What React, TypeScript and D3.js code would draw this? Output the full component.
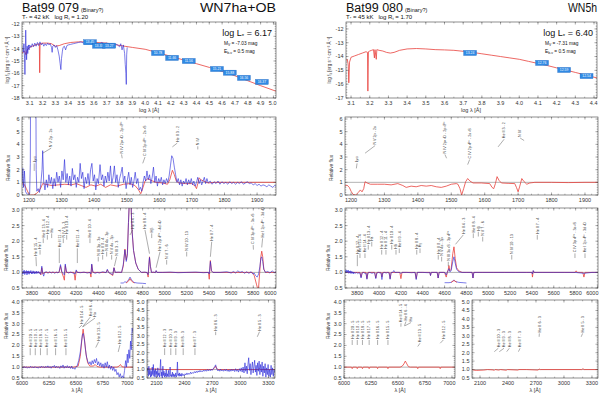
import React from "react";
import * as d3 from "d3";

type P = [number, number];
type Lbl = [number, number, number, number, string]; // line λ, label λ, tick y, text y, text
type Box = [number, number, string];

const FONT = "'Liberation Sans', Arial, Helvetica, sans-serif";
const RED = "#e8413c";
const BLUE = "#2424d8";
const INK = "#333";

// ---------------- Bat99 079 ----------------
const sedModel079: P[] = [[3.04,-14.35],[3.06,-14.2],[3.072,-14.5],[3.08,-14.1],[3.1,-13.9],[3.13,-13.75],[3.16,-13.65],[3.175,-13.6],[3.178,-15.95],[3.181,-13.6],[3.2,-13.55],[3.24,-13.55],[3.27,-13.6],[3.3,-13.8],[3.33,-13.75],[3.37,-13.6],[3.42,-13.5],[3.48,-13.45],[3.55,-13.45],[3.62,-13.5],[3.7,-13.55],[3.78,-13.7],[3.85,-13.82],[3.9,-13.9],[4.0,-14.05],[4.1,-14.33],[4.2,-14.62],[4.3,-14.92],[4.4,-15.22],[4.5,-15.52],[4.6,-15.85],[4.7,-16.2],[4.8,-16.6],[4.9,-17.0],[5.02,-17.45]];
const sedObs079: P[] = [[3.045,-13.9],[3.05,-14.3],[3.055,-13.6],[3.06,-14.8],[3.063,-16.1],[3.066,-14.2],[3.069,-12.5],[3.072,-13.9],[3.076,-14.9],[3.08,-13.8],[3.085,-14.4],[3.09,-13.7],[3.095,-14.1],[3.1,-13.7],[3.11,-13.9],[3.12,-13.6],[3.13,-13.85],[3.14,-13.55],[3.15,-13.8],[3.16,-13.5],[3.17,-13.75],[3.18,-13.45],[3.19,-13.7],[3.2,-13.55],[3.21,-13.8],[3.22,-13.6],[3.23,-13.75],[3.24,-13.55],[3.25,-13.7],[3.26,-13.6],[3.27,-13.9],[3.275,-14.3],[3.28,-13.8],[3.29,-13.7],[3.3,-13.9],[3.31,-13.75],[3.32,-14.1],[3.33,-14.6],[3.337,-15.2],[3.343,-15.7],[3.348,-14.8],[3.355,-14.2],[3.36,-13.9],[3.37,-13.8],[3.38,-14.1],[3.39,-13.75],[3.4,-13.7],[3.42,-13.65],[3.44,-13.6],[3.46,-13.55],[3.48,-13.5],[3.5,-13.45],[3.52,-13.55],[3.54,-13.5],[3.56,-13.6],[3.58,-13.5],[3.6,-13.6],[3.62,-13.55],[3.64,-13.65],[3.66,-13.5],[3.68,-13.6],[3.7,-13.55],[3.72,-13.65],[3.74,-13.6],[3.76,-13.7],[3.78,-13.65],[3.8,-13.85],[3.81,-13.6],[3.82,-14.1],[3.83,-13.7],[3.84,-14.4],[3.845,-15.3],[3.85,-16.0],[3.853,-16.9],[3.856,-14.5],[3.86,-13.9]];
const photo079: Box[] = [[3.57,-13.48,"13.45"],[3.64,-13.76,"13.33"],[3.72,-13.76,"13.27"],[4.1,-14.35,"10.78"],[4.21,-14.75,"11.66"],[4.34,-15.0,"11.56"],[4.56,-15.65,"15.21"],[4.66,-15.95,"15.88"],[4.77,-16.37,"16.56"],[4.91,-16.7,"16.37"]];

const uvModel079: P[] = [[1179,0.9],[1185,0.85],[1192,0.5],[1198,0.15],[1204,0.0],[1214,0.0],[1222,0.1],[1230,0.3],[1236,0.55],[1242,0.9],[1250,0.85],[1270,0.75],[1290,0.8],[1310,0.85],[1330,0.8],[1345,0.9],[1360,0.75],[1375,0.6],[1390,0.8],[1405,0.7],[1420,0.85],[1435,0.6],[1450,0.8],[1470,0.7],[1490,0.85],[1510,0.9],[1525,0.75],[1535,0.45],[1543,0.1],[1550,0.6],[1556,1.1],[1565,1.3],[1575,1.15],[1590,1.0],[1610,0.95],[1625,0.85],[1632,1.2],[1640,1.95],[1646,1.6],[1652,1.1],[1660,0.95],[1680,0.9],[1700,0.9],[1710,0.7],[1714,0.5],[1718,0.9],[1722,1.35],[1728,1.2],[1740,1.05],[1750,0.95],[1770,1.0],[1800,1.0],[1850,1.0],[1900,1.0],[1958,1.0]];
const uvObs079: P[] = [[1179,1.0],[1181,2.1],[1183,0.6],[1186,1.9],[1189,0.3],[1193,0.1],[1197,0.05],[1202,0.1],[1204,2.5],[1205,9],[1221,9],[1222,2],[1224,0.3],[1228,0.5],[1232,0.2],[1236,0.8],[1240,2.0],[1242,3.5],[1245,1.1],[1249,0.4],[1253,1.2],[1257,0.6],[1261,1.6],[1265,0.9],[1269,1.4],[1273,0.5],[1277,1.3],[1281,0.7],[1285,1.8],[1289,1.0],[1293,1.5],[1297,0.6],[1301,1.9],[1305,1.2],[1309,2.8],[1313,1.0],[1317,1.7],[1321,0.8],[1325,1.5],[1329,0.7],[1333,2.1],[1337,1.2],[1341,1.6],[1345,0.6],[1349,1.4],[1353,1.0],[1357,2.5],[1361,1.3],[1365,1.8],[1369,0.5],[1373,1.4],[1377,0.9],[1381,1.7],[1385,0.8],[1389,2.0],[1393,2.5],[1397,1.1],[1401,1.6],[1405,0.4],[1409,1.3],[1413,0.9],[1418,2.4],[1422,1.2],[1426,1.6],[1430,0.7],[1434,1.5],[1438,1.0],[1442,1.8],[1446,1.1],[1450,2.3],[1454,0.9],[1458,1.4],[1462,2.3],[1466,1.0],[1470,1.6],[1474,0.6],[1478,1.3],[1482,1.7],[1486,2.2],[1490,1.0],[1494,1.5],[1498,0.5],[1502,1.2],[1506,1.8],[1510,0.8],[1514,1.4],[1518,0.6],[1522,1.1],[1526,1.8],[1530,0.9],[1534,1.3],[1538,0.4],[1542,0.6],[1546,0.3],[1550,1.0],[1554,1.5],[1558,1.1],[1562,1.9],[1566,1.2],[1570,1.6],[1574,0.9],[1578,1.4],[1582,2.2],[1586,1.0],[1590,1.5],[1594,0.7],[1598,1.3],[1602,1.0],[1606,1.4],[1610,0.8],[1614,1.2],[1618,0.9],[1622,1.3],[1626,1.0],[1630,1.5],[1634,2.3],[1638,3.1],[1642,2.9],[1646,2.2],[1650,1.6],[1654,1.0],[1658,1.3],[1662,0.8],[1666,1.2],[1670,0.7],[1674,1.1],[1678,0.9],[1682,1.3],[1686,0.8],[1690,1.2],[1694,0.9],[1698,1.3],[1702,0.8],[1706,1.1],[1710,0.7],[1714,1.0],[1718,1.4],[1722,0.9],[1726,1.2],[1730,0.8],[1734,1.1],[1738,1.4],[1742,0.9],[1746,1.3],[1750,0.95],[1756,1.1],[1762,0.85],[1768,1.05],[1774,0.9],[1780,1.1],[1786,0.85],[1792,1.05],[1798,0.9],[1804,1.0],[1810,0.85],[1816,1.05],[1822,0.9],[1828,1.0],[1834,0.85],[1840,1.0],[1846,0.9],[1852,1.05],[1858,0.85],[1864,0.95],[1870,1.05],[1876,0.9],[1882,0.95],[1888,0.8],[1894,0.9],[1900,0.75],[1906,0.85],[1912,0.7],[1918,0.8],[1924,0.75],[1930,0.65],[1936,0.8],[1942,0.7],[1948,0.6],[1954,0.75],[1958,0.7]];
const uvLines079: Lbl[] = [[1216,1216,1.9,2.5,"Lyα"],[1242,1268,3.3,3.7,"N V 2p - 2s"],[1486,1484,2.9,3.2,"N IV 2p² ¹D - 2p ¹P°"],[1549,1556,2.5,3.0,"C IV 2p ²P° - 2s ²S"],[1640,1655,3.8,4.1,"He II 3 - 2"],[1718,1718,3.6,3.85,"N IV"]];

const optModel079: P[] = [[3710,1.0],[3870,1.0],[3880,0.92],[3889,1.15],[3898,0.95],[3915,1.0],[4045,1.0],[4058,1.2],[4070,1.0],[4085,0.85],[4093,0.75],[4101,1.22],[4112,1.0],[4180,1.0],[4190,0.75],[4200,1.05],[4210,1.0],[4325,1.0],[4333,0.85],[4340,1.25],[4350,1.0],[4470,1.0],[4481,1.08],[4492,1.0],[4530,0.9],[4541,1.15],[4552,1.0],[4610,1.0],[4625,1.2],[4640,1.75],[4652,1.4],[4662,1.6],[4672,2.6],[4680,3.3],[4694,3.3],[4703,2.4],[4718,1.7],[4738,1.3],[4760,1.1],[4790,1.0],[4840,1.0],[4850,0.85],[4856,1.2],[4862,1.5],[4870,1.2],[4880,1.0],[4915,1.0],[4922,1.05],[4930,1.0],[5395,1.0],[5402,0.78],[5412,1.38],[5422,1.05],[5435,1.0],[5790,1.0],[5808,0.9],[5830,0.6],[5845,0.4],[5858,1.0],[5868,1.5],[5876,1.68],[5885,1.5],[5895,1.1],[5910,1.0],[6005,1.0]];
const optObs079: P[] = [[3710,1.0],[3715,0.94],[3720,1.05],[3725,0.96],[3730,1.07],[3735,0.93],[3740,1.03],[3745,0.97],[3750,1.06],[3755,0.92],[3760,1.04],[3765,0.96],[3770,1.05],[3775,0.94],[3780,1.03],[3785,0.98],[3790,1.06],[3795,0.95],[3800,1.02],[3805,0.96],[3810,1.05],[3815,0.97],[3820,1.03],[3825,0.95],[3830,1.02],[3835,0.97],[3840,1.04],[3845,0.96],[3850,1.02],[3855,0.98],[3860,1.03],[3866,0.96],[3872,1.0],[3880,0.94],[3889,1.2],[3898,0.97],[3906,0.88],[3915,1.0],[3930,1.02],[3945,0.97],[3960,1.02],[3975,0.98],[3990,1.02],[4005,0.97],[4020,1.01],[4035,0.98],[4045,1.02],[4058,1.25],[4070,1.02],[4085,0.95],[4093,0.92],[4101,1.27],[4112,1.02],[4130,0.98],[4150,1.01],[4170,0.98],[4190,0.95],[4200,1.08],[4210,1.0],[4240,0.99],[4270,1.01],[4300,0.98],[4325,1.0],[4333,0.95],[4340,1.27],[4350,1.02],[4370,0.97],[4390,1.0],[4410,0.98],[4440,1.02],[4470,0.99],[4481,1.1],[4492,1.0],[4510,0.97],[4530,0.93],[4541,1.15],[4552,1.0],[4580,1.01],[4610,1.0],[4625,1.25],[4640,1.72],[4652,1.35],[4662,1.55],[4672,2.6],[4680,3.3],[4694,3.3],[4703,2.4],[4718,1.7],[4738,1.3],[4760,1.1],[4790,1.0],[4820,1.01],[4840,0.99],[4850,0.93],[4856,1.25],[4862,1.48],[4870,1.2],[4880,1.0],[4900,1.01],[4915,0.99],[4922,1.06],[4930,1.0],[4980,1.0],[5050,1.01],[5120,0.99],[5200,1.0],[5280,1.01],[5350,0.99],[5395,1.0],[5402,0.95],[5412,1.35],[5422,1.05],[5435,1.0],[5500,1.0],[5560,1.02],[5600,0.98],[5620,1.03],[5640,0.98],[5660,1.05],[5680,1.0],[5700,1.03],[5720,0.97],[5740,1.02],[5760,0.97],[5780,1.02],[5795,0.95],[5808,0.98],[5820,0.9],[5835,0.85],[5848,0.95],[5860,1.2],[5868,1.45],[5876,1.5],[5885,1.35],[5895,1.1],[5910,1.0],[5930,1.03],[5950,0.98],[5970,1.05],[5990,0.99],[6005,1.02]];
const optInsetObs079: P[] = [[4600,0.66],[4625,0.66],[4640,0.7],[4655,0.68],[4672,0.76],[4686,0.85],[4700,0.76],[4720,0.68],[4750,0.66],[4800,0.65],[4830,0.64]];
const optInsetModel079: P[] = [[4650,0.66],[4672,0.72],[4686,0.8],[4700,0.72],[4725,0.66]];
const optLines079: Lbl[] = [[3840,3836,1.2,1.5,"He II 15 - 4"],[3873,3873,1.57,1.72,"He I"],[3902,3902,1.94,2.09,"He II 13 - 4"],[3939,3939,2.05,2.2,"He II 12 - 4"],[3978,3978,2.1,2.25,"Hε"],[4047,4047,1.3,1.77,"He II 11 - 4"],[4083,4083,1.94,2.09,"N IV 3 - 3"],[4114,4114,2.05,2.2,"He II 10 - 4"],[4210,4210,1.3,1.77,"He II 11 - 4"],[4324,4324,1.94,2.09,"He II 10 - 4"],[4399,4399,1.35,1.5,"N III 3p - 3s"],[4439,4439,1.41,1.56,"He II 9 - 4"],[4475,4475,1.51,1.66,"N III 4s - 3p"],[4520,4520,1.41,1.56,"N V 4s - 3p"],[4545,4565,1.2,1.5,"N III 3 - 3"],[4686,4710,2.2,2.36,"He II 4 - 3"],[4862,4821,1.6,2.36,"He II 8 - 4"],[4882,4882,2.1,2.25,"Hβ"],[4922,4957,1.15,1.66,"He I 2p ³P° - 4d ³D"],[5017,5017,1.25,1.4,"N V 7 - 6"],[5198,5198,1.51,1.66,"N IV 10 - 13"],[5412,5424,1.5,1.98,"He II 7 - 4"],[5801,5799,1.73,1.88,"C IV 3p ²P° - 3s ²S"],[5876,5884,1.8,2.09,"He I 2p ³P° - 3d ³D"]];

const haModel079: P[] = [[6000,1.0],[6480,1.0],[6520,1.05],[6540,1.5],[6555,2.3],[6566,2.75],[6578,2.3],[6593,1.6],[6608,1.2],[6628,1.05],[6660,1.05],[6678,1.12],[6695,1.03],[6720,1.0],[6880,1.0],[6900,1.05],[6912,1.12],[6925,1.02],[6945,1.0],[7028,1.0]];
const haObs079: P[] = [[6000,1.0],[6010,0.96],[6020,1.03],[6030,0.97],[6040,1.02],[6050,0.95],[6060,1.0],[6070,0.97],[6080,1.04],[6090,0.98],[6100,1.01],[6110,0.96],[6120,1.03],[6130,0.98],[6140,1.0],[6150,0.95],[6160,1.02],[6170,0.97],[6180,1.05],[6190,0.99],[6200,1.02],[6210,0.96],[6220,1.04],[6230,0.98],[6240,1.06],[6250,0.97],[6260,1.03],[6270,0.95],[6280,1.04],[6290,1.0],[6300,1.08],[6310,0.96],[6320,1.05],[6330,0.98],[6340,1.02],[6350,0.94],[6360,1.06],[6370,0.98],[6380,1.1],[6390,0.95],[6400,1.04],[6410,0.97],[6420,1.07],[6430,0.96],[6440,1.03],[6450,0.94],[6460,1.05],[6470,0.92],[6480,0.97],[6490,0.9],[6500,1.0],[6510,1.05],[6525,1.3],[6540,1.7],[6552,2.2],[6560,2.5],[6568,2.55],[6578,2.25],[6588,1.8],[6598,1.45],[6610,1.25],[6620,1.15],[6630,1.25],[6640,1.1],[6650,1.3],[6660,1.15],[6670,1.35],[6680,1.2],[6690,1.4],[6700,1.1],[6710,1.25],[6720,1.05],[6730,1.2],[6740,1.0],[6750,1.15],[6760,0.95],[6770,1.2],[6780,1.0],[6790,1.25],[6800,0.95],[6810,1.1],[6820,0.9],[6830,1.05],[6840,0.85],[6850,1.0],[6860,0.8],[6870,0.9],[6880,0.65],[6890,0.75],[6900,0.55],[6910,0.7],[6920,0.5],[6930,0.6],[6940,0.5],[6950,0.85],[6960,1.3],[6968,1.0],[6975,1.6],[6982,1.2],[6990,1.8],[6998,1.4],[7005,2.2],[7012,1.8],[7020,2.8],[7028,2.6]];
const haLines079: Lbl[] = [[6076,6076,1.55,1.87,"He II 20 - 5"],[6123,6123,1.55,1.87,"He II 19 - 5"],[6171,6171,1.55,1.87,"He II 18 - 5"],[6233,6233,1.55,1.87,"He II 17 - 5"],[6311,6311,1.55,1.87,"He II 16 - 5"],[6407,6407,1.55,1.87,"He II 15 - 5"],[6527,6555,2.8,2.94,"He II 14 - 5"],[6560,6632,2.85,3.3,"He II 6 - 4"],[6563,6676,2.85,3.26,"Hα"],[6683,6710,1.9,2.17,"He II 13 - 5"],[6891,6907,1.7,2.02,"He II 12 - 5"]];

const nuvModel079: P[] = [[1998,1.05],[2100,1.03],[2200,1.0],[2500,1.0],[2700,1.0],[2720,1.08],[2734,1.2],[2746,1.05],[2760,1.0],[3000,1.0],[3190,1.0],[3204,1.05],[3216,1.0],[3370,1.0]];
const nuvObs079: P[] = [[2000,0.9],[2006,1.1],[2012,0.6],[2018,1.2],[2024,0.7],[2030,1.0],[2036,0.55],[2042,0.9],[2048,0.6],[2054,1.15],[2060,0.7],[2066,1.3],[2072,0.6],[2078,0.95],[2084,0.55],[2090,1.05],[2096,0.7],[2102,0.9],[2108,0.55],[2114,1.1],[2120,0.65],[2126,0.8],[2132,0.55],[2138,1.0],[2144,1.6],[2150,0.6],[2156,0.85],[2162,0.5],[2168,1.2],[2174,0.65],[2180,0.9],[2186,0.55],[2192,0.8],[2198,0.6],[2204,1.0],[2210,0.55],[2216,0.75],[2222,0.6],[2228,0.95],[2234,0.55],[2240,0.8],[2246,1.15],[2252,0.6],[2258,0.7],[2264,0.55],[2270,0.85],[2276,0.6],[2282,0.75],[2288,0.55],[2294,0.7],[2300,0.6],[2306,0.8],[2312,0.55],[2318,0.7],[2324,1.45],[2330,0.65],[2336,0.75],[2342,0.6],[2348,0.8],[2354,0.62],[2360,0.72],[2366,0.6],[2372,0.78],[2378,0.65],[2386,0.72],[2396,0.62],[2406,0.75],[2416,0.68],[2426,0.8],[2436,0.7],[2446,0.78],[2456,0.72],[2466,0.85],[2476,0.75],[2486,0.82],[2496,0.78],[2506,0.88],[2516,0.8],[2526,0.9],[2536,0.82],[2546,0.92],[2556,0.85],[2566,0.95],[2576,0.86],[2586,0.93],[2596,0.88],[2606,0.97],[2616,0.9],[2626,0.98],[2636,0.9],[2646,1.0],[2656,0.92],[2666,1.0],[2676,0.93],[2686,1.02],[2696,0.95],[2706,1.05],[2716,1.1],[2726,1.2],[2734,1.28],[2742,1.1],[2750,1.0],[2758,0.92],[2768,1.0],[2778,0.9],[2788,1.02],[2798,0.92],[2808,0.98],[2818,0.9],[2828,1.0],[2838,0.92],[2848,1.02],[2858,0.9],[2868,0.98],[2878,0.88],[2888,1.0],[2898,0.9],[2908,1.02],[2918,0.92],[2928,1.0],[2938,0.88],[2948,1.05],[2958,0.9],[2968,1.0],[2978,0.85],[2988,1.05],[2998,0.9],[3008,1.1],[3018,0.85],[3028,1.15],[3038,0.8],[3048,1.4],[3056,0.9],[3064,1.2],[3072,0.75],[3080,1.3],[3088,1.7],[3096,0.95],[3104,1.35],[3112,0.7],[3120,1.1],[3128,1.45],[3136,0.8],[3144,1.2],[3152,1.55],[3160,0.85],[3168,1.25],[3176,0.65],[3184,1.4],[3192,0.9],[3200,1.5],[3208,0.7],[3216,1.3],[3224,0.85],[3232,1.45],[3240,0.6],[3248,1.2],[3256,0.8],[3264,1.35],[3272,0.55],[3280,1.1],[3288,0.7],[3296,1.3],[3304,0.6],[3312,1.0],[3320,0.55],[3328,1.25],[3336,0.7],[3344,1.1],[3352,0.6],[3360,1.0],[3370,0.8]];
const nuvLines079: Lbl[] = [[2187,2187,1.86,2.26,"He II 12 - 3"],[2253,2253,1.86,2.26,"He II 10 - 3"],[2307,2307,1.86,2.26,"He II 9 - 3"],[2386,2386,1.86,2.26,"He II 8 - 3"],[2512,2512,1.86,2.26,"He II 7 - 3"],[2734,2734,3.04,3.24,"He II 6 - 3"],[3180,3204,2.94,3.24,"He II 5 - 3"]];

// ---------------- Bat99 080 ----------------
const sedModel080: P[] = [[3.073,-14.3],[3.08,-14.2],[3.085,-14.6],[3.088,-15.9],[3.092,-14.4],[3.1,-14.05],[3.12,-13.95],[3.14,-13.85],[3.16,-13.75],[3.18,-13.65],[3.188,-13.7],[3.19,-16.5],[3.193,-13.65],[3.2,-13.6],[3.21,-13.55],[3.22,-13.5],[3.225,-14.1],[3.228,-13.5],[3.235,-14.2],[3.238,-13.5],[3.25,-13.55],[3.27,-13.6],[3.29,-13.7],[3.31,-13.75],[3.33,-13.7],[3.36,-13.55],[3.4,-13.45],[3.45,-13.42],[3.5,-13.45],[3.55,-13.5],[3.6,-13.52],[3.65,-13.55],[3.7,-13.62],[3.75,-13.7],[3.8,-13.8],[3.85,-13.9],[3.9,-14.0],[3.95,-14.1],[4.0,-14.2],[4.05,-14.35],[4.1,-14.5],[4.15,-14.65],[4.2,-14.82],[4.25,-14.98],[4.3,-15.15],[4.35,-15.32],[4.416,-15.55]];
const photo080: Box[] = [[3.737,-13.74,"13.24"],[4.122,-14.46,"12.76"],[4.24,-14.97,"12.59"],[4.36,-15.41,"12.54"]];

const uvModel080: P[] = [[1182,0.7],[1188,0.78],[1195,0.6],[1200,0.3],[1206,0.05],[1214,0.0],[1222,0.2],[1228,0.4],[1233,0.25],[1238,0.5],[1242,1.05],[1248,0.95],[1258,0.85],[1280,0.85],[1300,0.85],[1320,0.8],[1340,0.9],[1355,0.75],[1365,0.6],[1380,0.7],[1395,0.65],[1410,0.75],[1425,0.7],[1440,0.75],[1455,0.65],[1470,0.6],[1485,0.7],[1500,0.85],[1515,0.9],[1520,0.85],[1526,0.5],[1531,0.0],[1537,0.5],[1543,1.05],[1549,1.3],[1556,1.1],[1565,0.95],[1590,0.95],[1615,0.9],[1622,0.6],[1627,0.5],[1632,0.9],[1637,1.45],[1643,1.15],[1650,0.95],[1670,0.92],[1690,0.9],[1695,0.6],[1700,0.25],[1705,0.7],[1711,1.3],[1718,1.05],[1726,0.85],[1735,0.95],[1750,1.0],[1800,1.0],[1850,0.98],[1900,1.0],[1939,1.0]];
const uvLines080: Lbl[] = [[1216,1218,2.1,2.5,"Lyα"],[1242,1272,3.3,3.9,"N V 2p - 2s"],[1486,1481,2.9,3.2,"N IV 2p² ¹D - 2p ¹P°"],[1549,1555,2.4,2.8,"C IV 2p ²P° - 2s ²S"],[1640,1658,3.8,4.4,"He II 3 - 2"],[1718,1706,4.3,4.5,"N IV"]];

const optModel080: P[] = [[3688,1.0],[3825,1.0],[3835,0.85],[3845,1.0],[3880,1.0],[3889,0.8],[3898,1.0],[3960,1.0],[3970,0.82],[3980,1.0],[4018,1.0],[4026,0.85],[4034,1.0],[4092,1.0],[4101,0.8],[4110,1.0],[4190,1.0],[4200,0.8],[4210,1.0],[4330,1.0],[4340,0.8],[4350,1.0],[4465,1.0],[4471,0.9],[4478,1.0],[4532,1.0],[4541,0.82],[4550,1.0],[4600,1.0],[4615,0.85],[4625,1.0],[4634,1.1],[4640,1.22],[4648,1.05],[4660,1.1],[4675,1.6],[4686,1.82],[4697,1.45],[4710,1.15],[4730,1.05],[4760,1.0],[4852,1.0],[4860,0.82],[4868,1.0],[5400,1.0],[5405,0.85],[5412,1.05],[5420,1.0],[5795,1.0],[5805,1.05],[5815,1.0],[5866,1.0],[5876,0.85],[5886,1.0],[6005,1.0]];
const optObs080: P[] = [[3688,1.05],[3693,1.0],[3698,1.08],[3703,0.98],[3708,1.06],[3713,1.0],[3718,1.07],[3723,0.97],[3728,1.04],[3733,0.99],[3738,1.05],[3743,0.96],[3748,1.03],[3753,0.98],[3758,1.02],[3763,0.95],[3768,1.01],[3773,0.97],[3778,1.0],[3785,0.97],[3795,1.0],[3805,0.96],[3815,0.99],[3825,0.98],[3835,0.82],[3845,0.98],[3860,1.0],[3872,0.96],[3880,0.98],[3889,0.78],[3898,0.98],[3915,1.0],[3935,0.97],[3950,0.99],[3960,0.98],[3970,0.8],[3980,0.98],[3995,1.0],[4010,0.98],[4018,0.99],[4026,0.77],[4034,0.98],[4050,1.0],[4065,0.98],[4080,1.0],[4092,0.98],[4101,0.78],[4110,0.99],[4125,1.0],[4135,1.06],[4145,1.0],[4170,1.0],[4190,1.0],[4200,0.96],[4210,1.0],[4250,1.0],[4300,0.99],[4330,1.0],[4340,0.77],[4350,1.0],[4400,1.0],[4450,0.99],[4465,1.0],[4471,0.9],[4478,1.0],[4510,1.0],[4532,1.0],[4541,0.82],[4550,1.0],[4590,1.0],[4605,0.99],[4615,0.92],[4625,1.0],[4634,1.07],[4640,1.12],[4648,1.02],[4660,1.05],[4675,1.35],[4686,1.5],[4697,1.3],[4710,1.1],[4730,1.02],[4760,1.0],[4800,1.0],[4852,1.0],[4860,0.82],[4868,1.0],[4950,1.0],[5050,1.0],[5150,1.0],[5250,1.0],[5350,1.0],[5400,1.0],[5405,0.95],[5412,1.06],[5420,1.0],[5500,1.0],[5600,1.0],[5700,1.0],[5795,1.0],[5876,0.97],[5950,1.0],[6005,1.0]];
const optInsetObs080: P[] = [[4600,0.67],[4640,0.67],[4660,0.68],[4675,0.72],[4686,0.76],[4700,0.71],[4730,0.68],[4770,0.67],[4800,0.66]];
const optInsetModel080: P[] = [[4660,0.68],[4686,0.74],[4712,0.68]];
const optLines080: Lbl[] = [[3801,3801,1.2,1.56,"He II 17 - 4"],[3825,3825,1.46,1.61,"He II 15 - 4"],[3871,3871,1.46,1.61,"He II 14 - 4"],[3901,3901,1.73,1.88,"He II 13 - 4"],[3933,3933,1.83,1.98,"Hε"],[4024,4024,1.57,1.72,"He II 12 - 4"],[4063,4063,1.57,1.72,"He II 11 - 4"],[4116,4116,1.73,1.88,"He II 10 - 4"],[4155,4155,1.57,1.72,"Hδ"],[4185,4185,1.62,1.77,"He II 9 - 4"],[4345,4345,1.57,1.72,"He II 8 - 4"],[4375,4375,1.62,1.77,"Hγ"],[4542,4542,1.41,1.56,"He II 9 - 4"],[4573,4573,1.35,1.5,"N V 4s - 3p"],[4634,4634,1.2,1.34,"N III 3s ²S - 3p ²P°"],[4700,4771,1.9,2.2,"He II 4 - 3"],[4863,4863,2.1,2.25,"He II 8 - 4"],[4909,4909,2.15,2.3,"Hβ"],[4949,4949,1.99,2.14,"N V 7 - 6"],[5215,5215,1.41,1.56,"N IV 10 - 13"],[5449,5449,2.05,2.2,"He II 7 - 4"],[5794,5794,1.46,1.61,"C IV 3p ²P° - 3s ²S"],[5886,5886,1.46,1.61,"He I 2p ³P° - 3d ³D"]];

const haModel080: P[] = [[6000,1.0],[6070,1.0],[6076,0.93],[6082,1.0],[6117,1.0],[6123,0.93],[6129,1.0],[6165,1.0],[6171,0.93],[6177,1.0],[6227,1.0],[6233,0.93],[6239,1.0],[6305,1.0],[6311,0.93],[6317,1.0],[6401,1.0],[6407,0.93],[6413,1.0],[6520,1.0],[6540,1.05],[6555,1.15],[6568,1.28],[6582,1.15],[6597,1.02],[6615,1.0],[6677,1.0],[6683,0.93],[6689,1.0],[6885,1.0],[6891,0.93],[6897,1.0],[7028,1.0]];
const haLines080: Lbl[] = [[6076,6076,2.02,2.25,"He II 20 - 5"],[6123,6123,2.02,2.25,"He II 19 - 5"],[6171,6171,2.02,2.25,"He II 18 - 5"],[6233,6233,2.02,2.25,"He II 17 - 5"],[6311,6311,2.02,2.25,"He II 16 - 5"],[6407,6407,2.02,2.25,"He II 15 - 5"],[6527,6528,2.86,3.02,"He II 14 - 5"],[6560,6574,2.9,3.1,"He II 6 - 4"],[6563,6620,2.9,3.05,"Hα"],[6683,6704,1.95,2.1,"He II 13 - 5"],[6891,6920,2.1,2.25,"He II 12 - 5"]];

const nuvModel080: P[] = [[2014,1.0],[2030,0.97],[2060,0.95],[2100,0.96],[2140,0.97],[2180,1.0],[2240,0.98],[2253,0.95],[2262,1.0],[2300,0.97],[2320,1.0],[2380,0.96],[2395,1.0],[2505,0.97],[2518,1.0],[2600,1.0],[2722,0.97],[2734,1.03],[2746,1.0],[3190,1.0],[3204,1.05],[3216,1.0],[3365,1.0]];
const nuvLines080: Lbl[] = [[2253,2296,2.06,2.26,"He II 10 - 3"],[2307,2357,2.06,2.26,"He II 9 - 3"],[2386,2414,2.06,2.26,"He II 8 - 3"],[2512,2529,2.06,2.26,"He II 7 - 3"],[2734,2736,2.94,3.14,"He II 6 - 3"],[3185,3200,2.94,3.14,"He II 5 - 3"]];

// ---------------- axes ----------------
const sedTicks079 = [3.1,3.2,3.3,3.4,3.5,3.6,3.7,3.8,3.9,4.0,4.1,4.2,4.3,4.4,4.5,4.6,4.7,4.8,4.9,5.0];
const sedTicks080 = [3.1,3.2,3.3,3.4,3.5,3.6,3.7,3.8,3.9,4.0,4.1,4.2,4.3,4.4];
const sedYTicks079 = [-18,-17,-16,-15,-14,-13,-12];
const sedYTicks080 = [-17,-16,-15,-14,-13,-12];
const uvTicks = [1200,1300,1400,1500,1600,1700,1800,1900];
const uvYTicks = [0,1,2,3,4,5,6];
const optTicks = [3800,4000,4200,4400,4600,4800,5000,5200,5400,5600,5800,6000];
const optYTicks = [0.5,1.0,1.5,2.0,2.5,3.0];
const haTicks = [6000,6250,6500,6750,7000];
const haYTicks = [0.5,1.0,1.5,2.0,2.5,3.0,3.5,4.0];
const nuvTicks = [2100,2400,2700,3000,3300];
const nuvYTicks = [0.5,1.0,1.5,2.0,2.5,3.0,3.5,4.0,4.5,5.0];

type Series = { data: P[]; color: string; w?: number; op?: number };
interface PanelProps {
  id: string;
  box: [number, number, number, number];
  xDom: [number, number];
  yDom: [number, number];
  xTicks: number[];
  xMinor: number;
  yTicks: number[];
  yMinor: number;
  xFmt: (v: number) => string;
  yFmt: (v: number) => string;
  series: Series[];
  ref1?: boolean;
  lines?: Lbl[];
  boxes?: Box[];
}

const f1 = d3.format(".1f");
const f0 = (v: number) => String(v);

function minorTicks(dom: [number, number], step: number) {
  const out: number[] = [];
  for (let i = Math.ceil(dom[0] / step - 1e-6); i * step <= dom[1] + 1e-9; i++) out.push(i * step);
  return out;
}

function Panel(p: PanelProps) {
  const [x0, y0, x1, y1] = p.box;
  const x = d3.scaleLinear().domain(p.xDom).range([x0, x1]);
  const y = d3.scaleLinear().domain(p.yDom).range([y1, y0]);
  const line = d3.line<P>().x(d => x(d[0])).y(d => y(d[1]));
  const ink = "#444";
  const tk: React.ReactNode[] = [];
  const addX = (v: number, len: number, k: string) => {
    tk.push(<line key={"xb" + k} x1={x(v)} x2={x(v)} y1={y1} y2={y1 - len} stroke={ink} strokeWidth={0.4} />);
    tk.push(<line key={"xt" + k} x1={x(v)} x2={x(v)} y1={y0} y2={y0 + len} stroke={ink} strokeWidth={0.4} />);
  };
  const addY = (v: number, len: number, k: string) => {
    tk.push(<line key={"yl" + k} x1={x0} x2={x0 + len} y1={y(v)} y2={y(v)} stroke={ink} strokeWidth={0.4} />);
    tk.push(<line key={"yr" + k} x1={x1} x2={x1 - len} y1={y(v)} y2={y(v)} stroke={ink} strokeWidth={0.4} />);
  };
  minorTicks(p.xDom, p.xMinor).forEach((v, i) => addX(v, 1.3, "m" + i));
  p.xTicks.forEach((v, i) => addX(v, 2.6, "M" + i));
  minorTicks(p.yDom, p.yMinor).forEach((v, i) => addY(v, 1.3, "m" + i));
  p.yTicks.forEach((v, i) => addY(v, 2.6, "M" + i));

  return (
    <g>
      <defs>
        <clipPath id={p.id}>
          <rect x={x0} y={y0} width={x1 - x0} height={y1 - y0} />
        </clipPath>
      </defs>
      <g clipPath={`url(#${p.id})`}>
        {p.ref1 && <line x1={x0} x2={x1} y1={y(1)} y2={y(1)} stroke="#555" strokeWidth={0.45} />}
        {p.series.map((s, i) => (
          <path key={i} d={line(s.data) || ""} fill="none" stroke={s.color} strokeWidth={s.w ?? 0.7}
            strokeOpacity={s.op ?? 1} strokeLinejoin="round" />
        ))}
      </g>
      <rect x={x0} y={y0} width={x1 - x0} height={y1 - y0} fill="none" stroke={ink} strokeWidth={0.6} />
      {tk}
      {p.xTicks.map(v => {
        const atEdge = x(v) > x1 - 6;
        return (
          <text key={"xl" + v} x={atEdge ? x1 + 0.5 : x(v)} y={y1 + 7} fontSize={5.5}
            textAnchor={atEdge ? "end" : "middle"} fill={INK}>{p.xFmt(v)}</text>
        );
      })}
      {p.yTicks.map(v => (
        <text key={"yl" + v} x={x0 - 2.5} y={y(v)} dy="0.35em" fontSize={5.5} textAnchor="end" fill={INK}>{p.yFmt(v)}</text>
      ))}
      {(p.lines || []).map((l, i) => (
        <g key={"ln" + i}>
          <line x1={x(l[0])} y1={y(l[2])} x2={x(l[1])} y2={y(l[3])} stroke={INK} strokeWidth={0.4} />
          <text transform={`translate(${x(l[1])},${y(l[3]) - 1}) rotate(-90)`} dy="0.35em" fontSize={3.7} fill={INK}>{l[4]}</text>
        </g>
      ))}
      {(p.boxes || []).map((b, i) => (
        <g key={"bx" + i}>
          <rect x={x(b[0]) - 6.5} y={y(b[1]) - 2.6} width={13} height={5.2} fill="#2f8ae4" stroke="#1b5eb8" strokeWidth={0.3} />
          <text x={x(b[0])} y={y(b[1])} dy="0.35em" fontSize={3.4} textAnchor="middle" fill="#fff">{b[2]}</text>
        </g>
      ))}
    </g>
  );
}

function Header(props: { x0: number; x1: number; name: string; sp: string; spLen: number; teff: string; rt: string; logl: string; mv: string }) {
  const { x0, x1 } = props;
  return (
    <g fill="#111">
      <text x={x0} y={11.5} fontSize={12.5}>{props.name}<tspan fontSize={5.5} dx={2}>(Binary?)</tspan></text>
      <text x={x1} y={11.5} fontSize={12} textAnchor="end" textLength={props.spLen} lengthAdjust="spacingAndGlyphs">{props.sp}</text>
      <text x={x0} y={18.8} fontSize={6}>
        T<tspan fontSize={4} dy={1.3}>*</tspan><tspan dy={-1.3}> = {props.teff} kK</tspan>
        <tspan dx={5}>log R</tspan><tspan fontSize={4} dy={1.3}>t</tspan><tspan dy={-1.3}> = {props.rt}</tspan>
      </text>
      <text x={x1 - 4} y={35.5} fontSize={9} textAnchor="end">log L<tspan fontSize={6} dy={2}>*</tspan><tspan dy={-2}> = {props.logl}</tspan></text>
      <text x={x1 - 52} y={45} fontSize={4.8}>M<tspan fontSize={3.4} dy={1}>V</tspan><tspan dy={-1}> = {props.mv} mag</tspan></text>
      <text x={x1 - 52} y={53} fontSize={4.8}>E<tspan fontSize={3.4} dy={1}>b-v</tspan><tspan dy={-1}> = 0.5 mag</tspan></text>
    </g>
  );
}

function RelFlux({ x, y }: { x: number; y: number }) {
  return <text transform={`translate(${x},${y}) rotate(-90)`} fontSize={4.8} textAnchor="middle" fill={INK}>Relative flux</text>;
}

export default function App() {
  const obs = (d: P[]): Series => ({ data: d, color: BLUE, w: 0.7, op: 0.85 });
  const mod = (d: P[]): Series => ({ data: d, color: RED, w: 0.8 });
  return (
    <svg width={600} height={394} viewBox="0 0 600 394"
      style={{ position: "absolute", left: 0, top: 0, background: "#fff", fontFamily: FONT }}>
      <rect width={600} height={394} fill="#fff" />

      {/* ---------- left: Bat99 079 ---------- */}
      <Header x0={22} x1={276} name="Bat99 079" sp="WN7ha+OB" spLen={76} teff="42" rt="1.20" logl="6.17" mv="-7.03" />
      <Panel id="c1" box={[22, 22, 276, 98]} xDom={[3.04, 5.02]} yDom={[-18, -11.84]} xTicks={sedTicks079} xMinor={0.05}
        yTicks={sedYTicks079} yMinor={0.2} xFmt={f1} yFmt={f0} series={[mod(sedModel079), obs(sedObs079)]} boxes={photo079} />
      <text transform="translate(9,60) rotate(-90)" fontSize={4.6} textAnchor="middle" fill={INK}>log f<tspan fontSize={3.4} dy={1}>λ</tspan><tspan dy={-1}> [erg s⁻¹ cm⁻² Å⁻¹]</tspan></text>
      <text x={149} y={112} fontSize={5.5} textAnchor="middle" fill={INK}>log λ [Å]</text>

      <Panel id="c2" box={[22, 117, 276, 195]} xDom={[1178.5, 1958]} yDom={[0, 6.16]} xTicks={uvTicks} xMinor={20}
        yTicks={uvYTicks} yMinor={0.2} xFmt={f0} yFmt={f0} series={[mod(uvModel079), obs(uvObs079)]} ref1 lines={uvLines079} />
      <RelFlux x={10} y={168} />

      <Panel id="c3" box={[22, 208, 276, 288]} xDom={[3710, 6005]} yDom={[0.5, 3.064]} xTicks={optTicks} xMinor={50}
        yTicks={optYTicks} yMinor={0.1} xFmt={f0} yFmt={f1}
        series={[mod(optModel079), obs(optObs079), obs(optInsetObs079), mod(optInsetModel079)]} ref1 lines={optLines079} />
      <RelFlux x={8} y={258} />

      <Panel id="c4" box={[22, 300, 133, 378]} xDom={[6000, 7028]} yDom={[0.5, 4.09]} xTicks={haTicks} xMinor={50}
        yTicks={haYTicks} yMinor={0.1} xFmt={f0} yFmt={f1} series={[mod(haModel079), obs(haObs079)]} ref1 lines={haLines079} />
      <RelFlux x={8} y={326} />
      <text x={77} y={392} fontSize={5.5} textAnchor="middle" fill={INK}>λ [Å]</text>

      <Panel id="c5" box={[147, 300, 275, 378]} xDom={[1998, 3370]} yDom={[0.5, 5.12]} xTicks={nuvTicks} xMinor={100}
        yTicks={nuvYTicks} yMinor={0.1} xFmt={f0} yFmt={f1} series={[mod(nuvModel079), obs(nuvObs079)]} ref1 lines={nuvLines079} />
      <text x={211} y={392} fontSize={5.5} textAnchor="middle" fill={INK}>λ [Å]</text>

      {/* ---------- right: Bat99 080 ---------- */}
      <Header x0={346} x1={597} name="Bat99 080" sp="WN5h" spLen={29} teff="45" rt="1.70" logl="6.40" mv="-7.31" />
      <Panel id="d1" box={[346, 22, 597, 98]} xDom={[3.073, 4.416]} yDom={[-17, -11.5]} xTicks={sedTicks080} xMinor={0.05}
        yTicks={sedYTicks080} yMinor={0.2} xFmt={f1} yFmt={f0} series={[mod(sedModel080)]} boxes={photo080} />
      <text transform="translate(331,60) rotate(-90)" fontSize={4.6} textAnchor="middle" fill={INK}>log f<tspan fontSize={3.4} dy={1}>λ</tspan><tspan dy={-1}> [erg s⁻¹ cm⁻² Å⁻¹]</tspan></text>
      <text x={471} y={112} fontSize={5.5} textAnchor="middle" fill={INK}>log λ [Å]</text>

      <Panel id="d2" box={[345, 117, 598, 195]} xDom={[1182, 1939]} yDom={[0, 6.16]} xTicks={uvTicks} xMinor={20}
        yTicks={uvYTicks} yMinor={0.2} xFmt={f0} yFmt={f0} series={[mod(uvModel080)]} ref1 lines={uvLines080} />
      <RelFlux x={333} y={168} />

      <Panel id="d3" box={[345, 208, 598, 288]} xDom={[3688, 6005]} yDom={[0.5, 3.064]} xTicks={optTicks} xMinor={50}
        yTicks={optYTicks} yMinor={0.1} xFmt={f0} yFmt={f1}
        series={[mod(optModel080), obs(optObs080), obs(optInsetObs080), mod(optInsetModel080)]} ref1 lines={optLines080} />
      <RelFlux x={330} y={258} />

      <Panel id="d4" box={[344, 300, 455, 378]} xDom={[6000, 7028]} yDom={[0.5, 4.09]} xTicks={haTicks} xMinor={50}
        yTicks={haYTicks} yMinor={0.1} xFmt={f0} yFmt={f1} series={[mod(haModel080)]} ref1 lines={haLines080} />
      <RelFlux x={330} y={326} />
      <text x={400} y={392} fontSize={5.5} textAnchor="middle" fill={INK}>λ [Å]</text>

      <Panel id="d5" box={[472, 300, 598, 378]} xDom={[2014, 3365]} yDom={[0.5, 5.12]} xTicks={nuvTicks} xMinor={100}
        yTicks={nuvYTicks} yMinor={0.1} xFmt={f0} yFmt={f1} series={[mod(nuvModel080)]} ref1 lines={nuvLines080} />
      <text x={535} y={392} fontSize={5.5} textAnchor="middle" fill={INK}>λ [Å]</text>
    </svg>
  );
}
